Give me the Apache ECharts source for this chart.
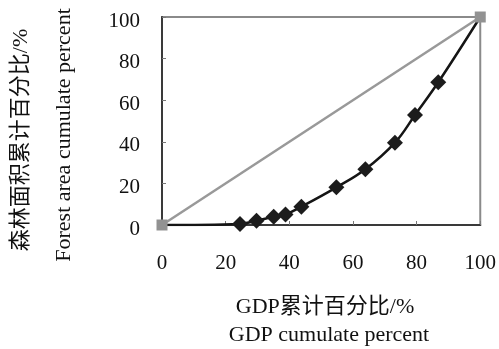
<!DOCTYPE html>
<html>
<head>
<meta charset="utf-8">
<script src="https://cdn.jsdelivr.net/npm/echarts@6/dist/echarts.min.js"></script>
<style>
  html, body { margin: 0; padding: 0; background: #fff; }
  #chart { width: 499px; height: 349px; }
</style>
</head>
<body>
<div id="chart"></div>
<script>
// Cumulative GDP share (x) vs cumulative forest area share (y), in percent
const gdpCumulative = [0, 24.5, 29.7, 35.1, 38.8, 43.8, 54.8, 63.9, 73.2, 79.5, 86.8, 100];
const forestCumulative = [0, 0.5, 2.1, 4.0, 5.1, 8.8, 18.1, 26.8, 39.6, 52.9, 68.6, 100];
// Line of perfect equality
const equalityX = [0, 100];
const equalityY = [0, 100];
const axisTicks = [0, 20, 40, 60, 80, 100];

const serif = '"Liberation Serif", "Times New Roman", "Noto Sans CJK SC", serif';

const curveData = gdpCumulative.map((x, i) => {
  const p = { value: [x, forestCumulative[i]] };
  if (i === 0 || i === gdpCumulative.length - 1) p.symbol = 'none';
  return p;
});
const equalityData = equalityX.map((x, i) => [x, equalityY[i]]);

const chart = echarts.init(document.getElementById('chart'), null, { renderer: 'canvas' });

chart.setOption({
  animation: false,
  backgroundColor: '#fff',
  grid: {
    left: 162, right: 18, top: 17, bottom: 124,
    show: true, borderColor: '#8a8a8a', borderWidth: 2, backgroundColor: 'transparent'
  },
  xAxis: {
    type: 'value', min: axisTicks[0], max: axisTicks[axisTicks.length - 1], interval: 20,
    axisLine: { show: true, lineStyle: { color: '#3a3a3a', width: 2 } },
    axisTick: { show: true, inside: true, length: 4, lineStyle: { color: '#777', width: 1 } },
    splitLine: { show: false },
    axisLabel: { color: '#111', fontFamily: serif, fontSize: 21, margin: 28 }
  },
  yAxis: {
    type: 'value', min: axisTicks[0], max: axisTicks[axisTicks.length - 1], interval: 20,
    axisLine: { show: true, lineStyle: { color: '#3a3a3a', width: 2 } },
    axisTick: { show: true, inside: true, length: 4, lineStyle: { color: '#777', width: 1 } },
    splitLine: { show: false },
    axisLabel: { color: '#111', fontFamily: serif, fontSize: 21, margin: 22, verticalAlign: 'top', lineHeight: 8 }
  },
  graphic: [
    {
      type: 'text',
      x: 21, y: 140, rotation: Math.PI / 2,
      style: { text: '森林面积累计百分比/%', font: '22px ' + serif, fill: '#111', align: 'center', verticalAlign: 'middle' }
    },
    {
      type: 'text',
      x: 64, y: 135, rotation: Math.PI / 2,
      style: { text: 'Forest area cumulate percent', font: '22px ' + serif, fill: '#111', align: 'center', verticalAlign: 'middle' }
    },
    {
      type: 'text',
      x: 325, y: 307,
      style: { text: 'GDP累计百分比/%', font: '22px ' + serif, fill: '#111', align: 'center', verticalAlign: 'middle' }
    },
    {
      type: 'text',
      x: 329, y: 335,
      style: { text: 'GDP cumulate percent', font: '22px ' + serif, fill: '#111', align: 'center', verticalAlign: 'middle' }
    }
  ],
  series: [
    {
      name: 'forest',
      type: 'line',
      data: curveData,
      smooth: 0.4,
      symbol: 'diamond',
      symbolSize: 16,
      lineStyle: { color: '#151515', width: 2.5 },
      itemStyle: { color: '#1c1c1c' },
      z: 3
    },
    {
      name: 'equality',
      type: 'line',
      data: equalityData,
      symbol: 'rect',
      symbolSize: 11,
      lineStyle: { color: '#999', width: 2.5 },
      itemStyle: { color: '#929292' },
      z: 4
    }
  ]
});
</script>
</body>
</html>
